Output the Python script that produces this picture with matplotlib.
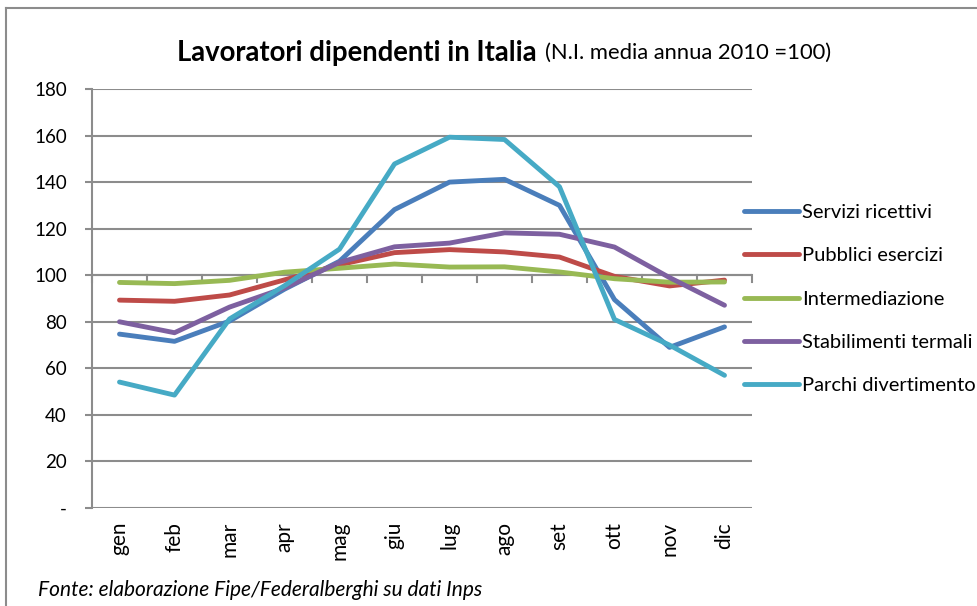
import matplotlib.pyplot as plt
from matplotlib.lines import Line2D

plt.rcParams['font.family'] = ['Lato', 'DejaVu Sans']

mesi = ['gen', 'feb', 'mar', 'apr', 'mag', 'giu', 'lug', 'ago', 'set', 'ott', 'nov', 'dic']
servizi_ricettivi = [74.7, 71.6, 80.3, 94, 106, 128.2, 140, 141.2, 130, 89.5, 69, 77.8]
pubblici_esercizi = [89.3, 88.8, 91.5, 98, 104.5, 109.7, 111, 110, 107.8, 99.5, 95.4, 97.9]
intermediazione = [96.9, 96.4, 97.8, 101.3, 103, 104.8, 103.5, 103.6, 101.4, 98.5, 97, 97.1]
stabilimenti_termali = [80, 75.3, 86.3, 94.5, 105.5, 112.2, 113.8, 118.2, 117.6, 112.1, 99, 87.1]
parchi_divertimento = [54.1, 48.5, 81.2, 95.5, 111.2, 147.8, 159.3, 158.3, 138, 81, 70, 57]

serie = [
    ('Servizi ricettivi', servizi_ricettivi, '#4a7ebb'),
    ('Pubblici esercizi', pubblici_esercizi, '#be4b48'),
    ('Intermediazione', intermediazione, '#98b954'),
    ('Stabilimenti termali', stabilimenti_termali, '#7d60a0'),
    ('Parchi divertimento', parchi_divertimento, '#46aac5'),
]

fig = plt.figure(figsize=(9.77, 6.06), dpi=100)
ax = fig.add_axes([92/977, 1 - 508/606, 660/977, 419/606])

x = list(range(len(mesi)))
for nome, valori, colore in serie:
    ax.plot(x, valori, color=colore, lw=3.5, label=nome, solid_capstyle='round', zorder=3)

grigio = '#8c8c8c'
ax.set_xlim(-0.5, len(mesi) - 0.5)
ax.set_ylim(0, 180)
ax.set_yticks(range(0, 181, 20))
ax.set_yticklabels(['-'] + [str(v) for v in range(20, 181, 20)])
ax.yaxis.grid(True, color=grigio, lw=1.5)
ax.set_axisbelow(True)
for s in ['top', 'right', 'bottom']:
    ax.spines[s].set_visible(False)
ax.spines['left'].set_color(grigio)
ax.spines['left'].set_linewidth(1.5)
ax.tick_params(axis='y', length=5, width=1.5, color=grigio, labelsize=13.5, pad=13)

# asse orizzontale che incrocia a 100, etichette in basso
ax.set_xticks(x)
ax.set_xticklabels(mesi, rotation=90, fontsize=15)
ax.tick_params(axis='x', length=0, pad=10)
ax.axhline(100, color=grigio, lw=1.5, zorder=2)
for b in range(len(mesi) + 1):
    ax.plot([b - 0.5, b - 0.5], [100, 97], color=grigio, lw=1.5, zorder=2, clip_on=False)

fig.text(537/977, 1 - 53/606, 'Lavoratori dipendenti in Italia', fontsize=19.8, fontweight='bold',
         ha='right', va='center')
fig.text(545/977, 1 - 53/606, '(N.I. media annua 2010 =100)', fontsize=15.8, ha='left', va='center')

fig.legend(loc='upper left', bbox_to_anchor=(744/977, 1 - 204/606), frameon=False,
           fontsize=14.5, handlelength=2.75, handletextpad=0.15, labelspacing=1.3,
           borderpad=0, borderaxespad=0)

fig.text(38/977, 1 - 590/606, 'Fonte: elaborazione Fipe/Federalberghi su dati Inps',
         fontsize=15, style='italic', ha='left', va='center')

# cornice del grafico
fig.add_artist(Line2D([6/977, 6/977], [0, 1 - 8/606], color=grigio, lw=1.5))
fig.add_artist(Line2D([6/977, 1], [1 - 8/606, 1 - 8/606], color=grigio, lw=1.5))

fig.savefig('out.png', dpi=100)
